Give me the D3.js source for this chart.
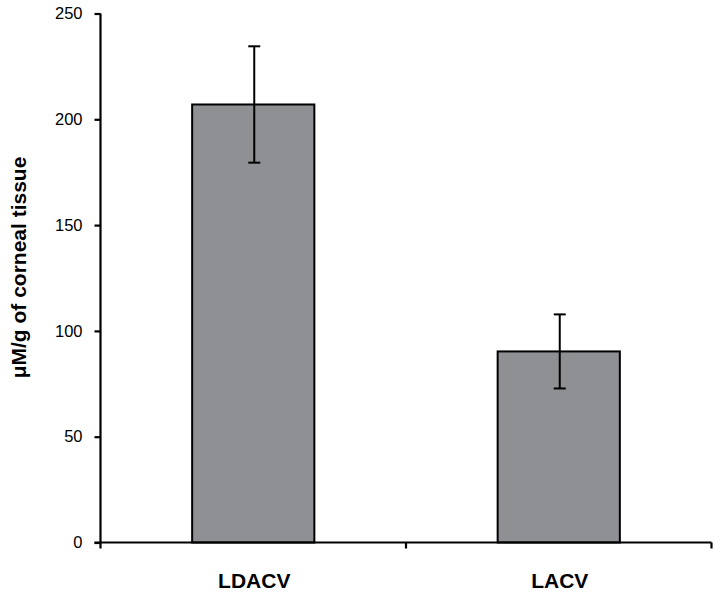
<!DOCTYPE html>
<html>
<head>
<meta charset="utf-8">
<script src="https://cdn.jsdelivr.net/npm/d3@7"></script>
<style>
  body { margin: 0; background: #fff; }
  text { font-family: "Liberation Sans", Arial, sans-serif; fill: #000; }
</style>
</head>
<body>
<div id="chart"></div>
<script>
// data
const categories = ["LDACV", "LACV"];
const means = [207, 90.3];
const errors = [27.5, 17.5];
const yTicks = [0, 50, 100, 150, 200, 250];

const width = 721, height = 599;
const margin = {top: 13.5, right: 10, bottom: 56, left: 100.5};

const svg = d3.select("#chart").append("svg")
  .attr("width", width)
  .attr("height", height);

const x = d3.scaleBand()
  .domain(categories)
  .range([margin.left, 711.5])
  .paddingInner(0.6)
  .paddingOuter(0.3);

const y = d3.scaleLinear()
  .domain([0, 250])
  .range([542.5, margin.top]);

// bars
svg.append("g").selectAll("rect")
  .data(categories)
  .join("rect")
  .attr("x", d => x(d))
  .attr("width", x.bandwidth())
  .attr("y", (d, i) => y(means[i]))
  .attr("height", (d, i) => y(0) - y(means[i]))
  .attr("fill", "#8e9093")
  .attr("stroke", "#000")
  .attr("stroke-width", 2);

// error bars
const eb = svg.append("g").selectAll("g")
  .data(categories)
  .join("g")
  .attr("transform", d => "translate(" + (x(d) + x.bandwidth() / 2 + 1) + ",0)");

eb.append("line")
  .attr("y1", (d, i) => y(means[i] + errors[i]))
  .attr("y2", (d, i) => y(means[i] - errors[i]))
  .attr("stroke", "#000").attr("stroke-width", 2);

eb.selectAll(".cap")
  .data((d, i) => [means[i] + errors[i], means[i] - errors[i]])
  .join("line")
  .attr("class", "cap")
  .attr("x1", -6).attr("x2", 6)
  .attr("y1", v => y(v)).attr("y2", v => y(v))
  .attr("stroke", "#000").attr("stroke-width", 2);

// y axis
const yAxis = d3.axisLeft(y)
  .tickValues(yTicks)
  .tickSize(6)
  .tickPadding(12);

svg.append("g")
  .attr("transform", "translate(" + margin.left + ",0)")
  .call(yAxis)
  .call(g => g.select(".domain").attr("stroke-width", 2.2).attr("d", "M0," + y(250) + "V" + y(0)))
  .call(g => g.selectAll(".tick line").attr("stroke-width", 2.2))
  .call(g => g.selectAll(".tick text")
    .style("font-size", "16.5px")
    .attr("font-family", "Liberation Sans, Arial, sans-serif"));

// x axis: ticks at band boundaries
const xEdges = [margin.left, (margin.left + 711.5) / 2, 711.5];
const xg = svg.append("g");
xg.append("line")
  .attr("x1", margin.left - 6).attr("x2", 711.5)
  .attr("y1", y(0)).attr("y2", y(0))
  .attr("stroke", "#000").attr("stroke-width", 2.2);
xg.selectAll(".xt")
  .data(xEdges)
  .join("line")
  .attr("class", "xt")
  .attr("x1", d => d).attr("x2", d => d)
  .attr("y1", y(0)).attr("y2", y(0) + 6)
  .attr("stroke", "#000").attr("stroke-width", 2.2);

xg.selectAll(".xl")
  .data(categories)
  .join("text")
  .attr("class", "xl")
  .attr("x", d => x(d) + x.bandwidth() / 2 + 1)
  .attr("y", 588)
  .attr("text-anchor", "middle")
  .style("font-size", "21px")
  .style("font-weight", "bold")
  .text(d => d);

// y title
svg.append("text")
  .attr("transform", "translate(25.5,267.5) rotate(-90)")
  .attr("text-anchor", "middle")
  .style("font-size", "21px")
  .style("font-weight", "bold")
  .text("μM/g of corneal tissue");
</script>
</body>
</html>
